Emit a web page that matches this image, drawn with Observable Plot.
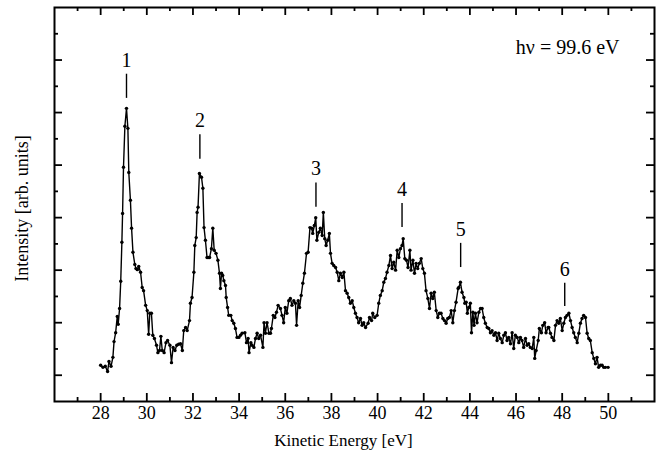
<!DOCTYPE html>
<html>
<head>
<meta charset="utf-8">
<script src="https://cdn.jsdelivr.net/npm/d3@7"></script>
<script src="https://cdn.jsdelivr.net/npm/@observablehq/plot@0.6"></script>
<style>
  html, body { margin: 0; padding: 0; background: #fff; }
  #chart { width: 660px; height: 460px; }
</style>
</head>
<body>
<div id="chart"></div>
<script>
// Kinetic energy (eV) of each measured point
const energy = [
  28.00,28.10,28.20,28.30,28.36,28.45,28.53,28.58,28.65,28.72,28.76,28.82,28.87,28.92,28.95,28.99,
  29.05,29.12,29.18,29.22,29.29,29.34,29.40,29.48,29.53,29.59,29.65,29.73,29.80,29.86,29.95,
  30.02,30.08,30.13,30.20,30.26,30.33,30.42,30.48,30.55,30.61,30.67,30.75,30.83,30.90,
  31.00,31.07,31.14,31.22,31.30,31.38,31.46,31.54,31.60,31.68,31.75,31.85,31.89,31.96,
  32.04,32.08,32.14,32.18,32.22,32.28,32.37,32.43,32.48,32.54,32.61,32.66,32.72,32.80,32.86,32.92,
  33.00,33.08,33.15,33.19,33.24,33.29,33.34,33.41,33.44,33.50,33.55,33.64,33.70,33.77,33.84,33.91,33.99,
  34.06,34.13,34.25,34.32,34.39,34.43,34.51,34.56,34.64,34.71,34.78,34.85,34.93,
  35.03,35.08,35.14,35.21,35.29,35.36,35.40,35.48,35.55,35.62,35.69,35.79,35.86,35.93,
  36.00,36.07,36.15,36.22,36.29,36.37,36.44,36.49,36.56,36.62,36.69,36.76,36.83,36.92,36.99,
  37.07,37.14,37.19,37.26,37.32,37.37,37.45,37.52,37.60,37.65,37.71,37.77,37.84,37.91,37.96,
  38.03,38.10,38.18,38.25,38.32,38.39,38.47,38.54,38.61,38.68,38.75,38.82,38.90,38.97,
  39.04,39.11,39.18,39.26,39.33,39.40,39.48,39.59,39.65,39.74,39.79,39.88,39.98,
  40.05,40.12,40.20,40.27,40.34,40.41,40.49,40.56,40.63,40.70,40.78,40.85,40.92,40.99,
  41.06,41.11,41.18,41.25,41.32,41.40,41.45,41.53,41.60,41.67,41.74,41.81,41.89,41.96,
  42.03,42.10,42.18,42.25,42.32,42.39,42.46,42.54,42.61,42.68,42.75,42.83,42.90,42.97,
  43.04,43.11,43.19,43.26,43.33,43.40,43.49,43.52,43.59,43.66,43.74,43.78,43.84,43.89,43.95,
  44.02,44.07,44.13,44.18,44.24,44.31,44.39,44.46,44.53,44.60,44.67,44.75,44.82,44.89,44.96,
  45.04,45.11,45.18,45.25,45.32,45.40,45.47,45.54,45.61,45.68,45.76,45.83,45.90,45.97,
  46.05,46.12,46.19,46.26,46.33,46.41,46.48,46.55,46.62,46.70,46.77,46.81,46.87,46.96,
  47.01,47.10,47.16,47.24,47.30,47.39,47.42,47.49,47.56,47.64,47.71,47.78,47.85,47.92,
  48.00,48.07,48.14,48.21,48.29,48.36,48.43,48.50,48.57,48.65,48.72,48.79,48.86,48.93,
  49.01,49.08,49.15,49.22,49.30,49.37,49.44,49.51,49.58,49.66,49.73,49.80,49.87,49.99
];
// Intensity (arb. units) of each point
const intensity = [
  6.9,6.5,6.7,5.7,7.6,6.7,8.4,11.4,13.1,16.2,14.7,17.7,22.9,30.3,35.8,44.6,
  52.4,55.8,52.0,43.6,38.3,33.0,28.4,26.1,25.3,25.1,25.7,24.6,21.7,21.1,18.3,
  17.3,12.8,16.8,16.8,12.6,12.0,10.7,9.3,9.7,12.4,9.7,9.3,11.2,11.6,
  10.7,7.4,10.3,9.7,10.7,10.9,11.0,9.7,13.5,14.1,13.5,15.4,18.7,19.8,
  24.6,29.7,31.2,36.0,37.0,43.4,42.7,40.6,33.1,30.7,27.4,27.4,27.4,29.1,33.0,28.8,
  28.2,26.9,24.4,21.5,24.4,24.0,23.0,22.1,19.8,17.9,16.4,16.4,15.4,14.9,13.9,12.2,12.2,
  12.6,13.0,13.1,11.2,12.0,9.3,11.2,10.7,10.3,12.0,13.0,12.0,12.6,
  10.3,15.0,13.0,15.0,13.0,13.0,13.9,16.4,16.0,17.0,18.3,17.7,16.4,15.0,
  17.9,16.8,19.2,19.6,18.3,19.2,18.7,14.5,19.2,17.9,20.2,22.5,24.4,28.2,28.4,
  33.1,33.0,32.0,33.5,35.0,30.7,32.2,33.0,31.6,36.0,31.0,29.7,30.7,32.0,28.2,
  26.3,25.9,25.5,24.6,23.0,24.4,23.6,24.6,21.1,20.6,19.8,18.7,19.2,17.9,
  16.8,16.0,15.0,15.8,14.5,15.0,14.1,14.9,16.0,15.4,16.8,16.0,16.4,
  18.7,20.2,21.1,22.7,23.4,24.6,25.9,27.8,25.3,26.5,25.0,28.8,27.4,29.1,
  29.7,31.0,27.2,26.9,25.5,28.8,25.0,26.9,24.4,26.3,25.3,26.3,27.2,25.3,
  24.4,21.1,19.6,17.7,20.6,19.6,20.8,17.3,16.0,16.8,16.8,15.8,15.4,14.9,
  15.8,16.0,17.3,15.0,17.3,18.9,21.5,21.7,22.7,20.8,19.8,18.7,18.9,16.8,17.9,
  18.7,13.1,17.0,14.5,16.8,15.0,17.0,17.7,17.7,16.0,14.9,14.1,13.9,13.1,13.5,
  12.6,13.1,11.6,13.0,12.0,11.2,12.6,13.1,11.6,12.2,11.0,13.1,10.1,12.6,
  12.2,11.2,12.2,11.6,10.3,12.0,10.7,11.0,10.3,10.1,12.2,8.2,9.7,11.6,
  13.9,13.1,14.5,15.0,13.1,14.1,14.1,13.0,12.2,11.6,14.5,15.4,14.9,15.8,
  13.5,14.9,16.0,16.4,16.8,15.4,14.1,13.1,12.2,11.2,13.0,14.9,15.8,16.4,
  16.0,13.0,12.0,11.6,9.3,8.2,7.2,8.4,6.5,6.9,6.9,6.5,6.5,6.5
];

// Peak annotations
const peakNames = ["1", "2", "3", "4", "5", "6"];
const peakEnergy = [29.12, 32.30, 37.33, 41.06, 43.60, 48.11];
const peakLineLow = [57.7, 46.1, 37.0, 33.1, 25.5, 18.1];
const peakLineHigh = [62.3, 50.8, 41.6, 37.7, 30.1, 22.5];

// Axis ticks
const xMajorTicks = [28, 30, 32, 34, 36, 38, 40, 42, 44, 46, 48, 50];
const xMinorTicks = [27, 29, 31, 33, 35, 37, 39, 41, 43, 45, 47, 49, 51];
const yMajorTicks = [5, 15, 25, 35, 45, 55, 65];
const yMinorTicks = [10, 20, 30, 40, 50, 60, 70];

const xTitle = "Kinetic Energy [eV]";
const yTitle = "Intensity [arb. units]";
const photonLabel = "hν = 99.6 eV";

const points = energy.map((e, i) => ({e, v: intensity[i]}));
const peaks = peakNames.map((n, i) => ({n, e: peakEnergy[i], lo: peakLineLow[i], hi: peakLineHigh[i]}));

const W = 660, H = 460, mL = 54, mR = 6, mT = 7, mB = 59;
const fw = W - mL - mR, fh = H - mT - mB;
const font = "'Liberation Serif', 'Times New Roman', serif";

const tickStyle = {stroke: "black", strokeWidth: 1.8};

const chart = Plot.plot({
  width: W, height: H,
  marginLeft: mL, marginRight: mR, marginTop: mT, marginBottom: mB,
  x: {domain: [26, 52], axis: null},
  y: {domain: [0, 75], axis: null},
  style: {fontFamily: font, background: "white", color: "black", overflow: "visible"},
  marks: [
    Plot.line(points, {x: "e", y: "v", stroke: "black", strokeWidth: 1.4}),
    Plot.dot(points, {x: "e", y: "v", r: 1.7, fill: "black", stroke: null}),
    // bottom ticks (inward)
    Plot.tickX(xMajorTicks, {x: d => d, insetTop: fh - 8, ...tickStyle}),
    Plot.tickX(xMinorTicks, {x: d => d, insetTop: fh - 4, ...tickStyle}),
    // top ticks
    Plot.tickX(xMajorTicks, {x: d => d, insetBottom: fh - 8, ...tickStyle}),
    Plot.tickX(xMinorTicks, {x: d => d, insetBottom: fh - 4, ...tickStyle}),
    // left ticks
    Plot.tickY(yMajorTicks, {y: d => d, insetRight: fw - 8, ...tickStyle}),
    Plot.tickY(yMinorTicks, {y: d => d, insetRight: fw - 4, ...tickStyle}),
    // right ticks
    Plot.tickY(yMajorTicks, {y: d => d, insetLeft: fw - 8, ...tickStyle}),
    Plot.tickY(yMinorTicks, {y: d => d, insetLeft: fw - 4, ...tickStyle}),
    Plot.frame({stroke: "black", strokeWidth: 2}),
    // x tick labels
    Plot.text(xMajorTicks, {x: d => d, frameAnchor: "bottom", dy: 12, text: d => String(d), fontSize: 18, lineAnchor: "middle", fill: "black"}),
    // axis titles
    Plot.text([xTitle], {frameAnchor: "bottom", dx: -11, dy: 39, fontSize: 17, lineAnchor: "middle", textAnchor: "middle", fill: "black"}),
    Plot.text([yTitle], {frameAnchor: "left", dx: -32, dy: 4, rotate: -90, fontSize: 18, lineAnchor: "middle", textAnchor: "middle", fill: "black"}),
    // photon energy
    Plot.text([photonLabel], {frameAnchor: "top-right", dx: -35, dy: 40, textAnchor: "end", fontSize: 20, lineAnchor: "middle", fill: "black"}),
    // peak markers
    Plot.ruleX(peaks, {x: "e", y1: "lo", y2: "hi", stroke: "black", strokeWidth: 1.4}),
    Plot.text(peaks, {x: "e", y: "hi", text: "n", dy: -14, fontSize: 20, lineAnchor: "middle", fill: "black"})
  ]
});

document.getElementById("chart").appendChild(chart);
</script>
</body>
</html>
